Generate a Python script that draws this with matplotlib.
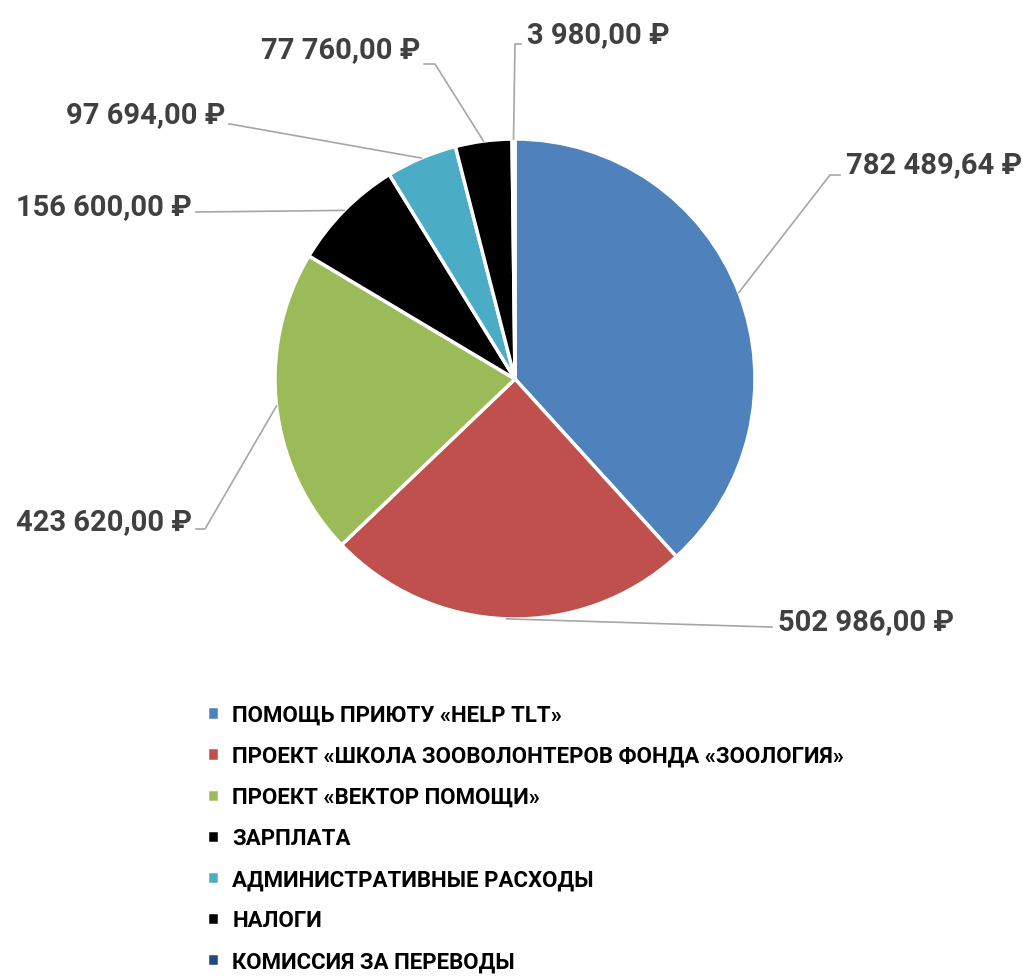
import numpy as np
import matplotlib.pyplot as plt
from matplotlib.lines import Line2D

plt.rcParams['font.family'] = ['Roboto', 'DejaVu Sans']
plt.rcParams['font.weight'] = 'bold'

# data
categories = [
    "ПОМОЩЬ ПРИЮТУ «HELP TLT»",
    "ПРОЕКТ «ШКОЛА ЗООВОЛОНТЕРОВ ФОНДА «ЗООЛОГИЯ»",
    "ПРОЕКТ «ВЕКТОР ПОМОЩИ»",
    "ЗАРПЛАТА",
    "АДМИНИСТРАТИВНЫЕ РАСХОДЫ",
    "НАЛОГИ",
    "КОМИССИЯ ЗА ПЕРЕВОДЫ",
]
amounts = [782489.64, 502986.00, 423620.00, 156600.00, 97694.00, 77760.00, 3980.00]
colors = ["#4f81bd", "#c0504d", "#9bbb59", "#000000", "#4bacc6", "#000000", "#1f497d"]

# label layout in pixels from top-left: (text x, text y, ha, elbow x, elbow y)
label_layout = [
    (846, 165, "left", 830, 176),
    (778, 622, "left", 770, 628),
    (192, 522, "right", 205, 530),
    (192, 207, "right", 198, 213),
    (225, 115, "right", 230, 125),
    (420, 50, "right", 435, 65),
    (527, 35, "left", 515, 45),
]

W, H = 1023, 978


def px(x, y):
    return x / W, 1 - y / H


def fmt_rub(v):
    s = f"{v:,.2f}".replace(",", " ").replace(".", ",")
    return s + " ₽"


fig = plt.figure(figsize=(W / 100, H / 100), dpi=100)
cx, cy, r = 515, 380, 240
ax = fig.add_axes([(cx - r) / W, 1 - (cy + r) / H, 2 * r / W, 2 * r / H])
wedges, _ = ax.pie(amounts, colors=colors, startangle=90, counterclock=False,
                   wedgeprops=dict(edgecolor="white", linewidth=2.5), radius=1)
ax.set_xlim(-1, 1)
ax.set_ylim(-1, 1)
ax.set_aspect("equal")
ax.axis("off")

to_fig = ax.transData + fig.transFigure.inverted()
for w, v, (tx, ty, ha, ex, ey) in zip(wedges, amounts, label_layout):
    ang = np.deg2rad((w.theta1 + w.theta2) / 2)
    wx, wy = to_fig.transform((np.cos(ang), np.sin(ang)))
    p_el = px(ex, ey)
    p_tx = px(tx + (4 if ha == "right" else -6), ey)
    fig.add_artist(Line2D([wx, p_el[0], p_tx[0]], [wy, p_el[1], p_tx[1]],
                          color="#a6a6a6", lw=1.2, transform=fig.transFigure))
    fig.text(*px(tx, ty), fmt_rub(v), ha=ha, va="center", fontsize=21,
             color="#404040", fontweight="bold")

fig.legend(wedges, categories, loc="upper left", bbox_to_anchor=px(198, 696),
           frameon=False, fontsize=16, handlelength=0.55, handleheight=0.55,
           handletextpad=0.6, labelspacing=0.86, borderaxespad=0)

fig.savefig("out.png", dpi=100)
